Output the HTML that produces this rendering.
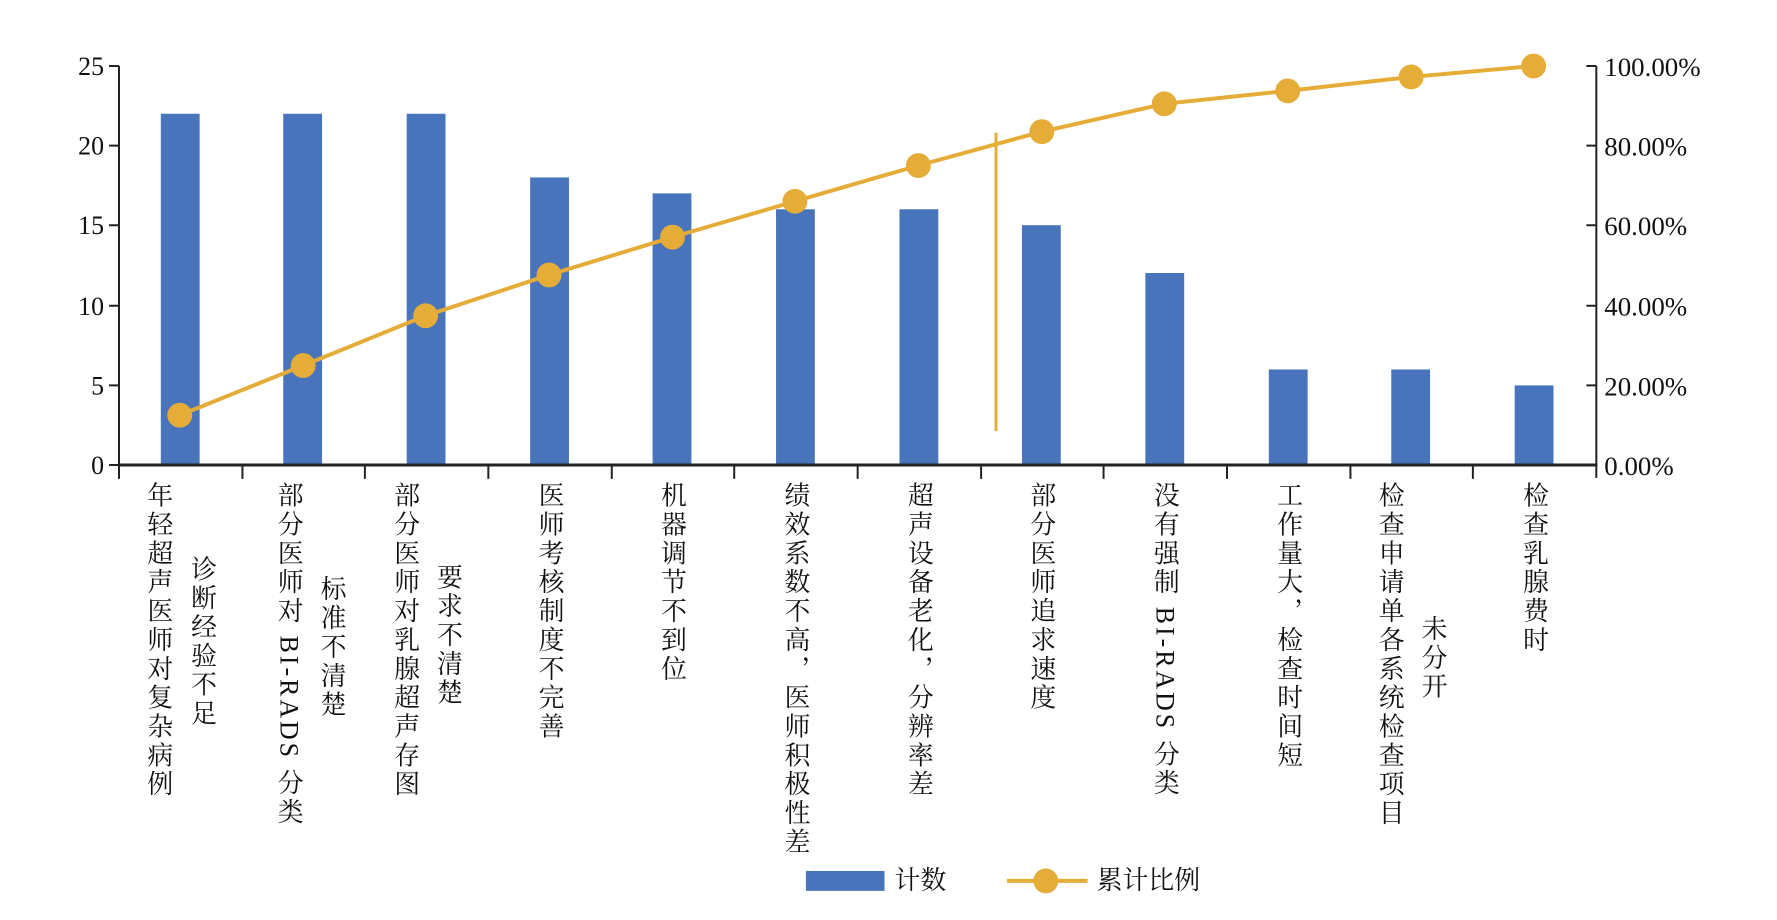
<!DOCTYPE html>
<html><head><meta charset="utf-8"><style>
body{margin:0;width:1777px;height:920px;background:#fff;position:relative;overflow:hidden;font-family:"Liberation Serif","Noto Serif CJK SC",serif;}
#w{position:absolute;left:0;top:0;width:1777px;height:920px;transform-origin:0 0;transform:matrix(0.9955,0,0,0.995,-0.46,0.33);}
.v{position:absolute;writing-mode:vertical-rl;font-size:26px;letter-spacing:3px;color:#111;line-height:1;white-space:nowrap;}
.t{position:absolute;font-size:26px;color:#111;line-height:1;}
</style></head><body><div id="w">
<svg width="1777" height="920" style="position:absolute;left:0;top:0">
<g fill="#4874bc">
<rect x="162" y="114" width="39" height="353"/>
<rect x="285" y="114" width="39" height="353"/>
<rect x="409" y="114" width="39" height="353"/>
<rect x="533" y="178" width="39" height="289"/>
<rect x="656" y="194" width="39" height="273"/>
<rect x="780" y="210" width="39" height="257"/>
<rect x="904" y="210" width="39" height="257"/>
<rect x="1027" y="226" width="39" height="241"/>
<rect x="1151" y="274" width="39" height="193"/>
<rect x="1275" y="371" width="39" height="96"/>
<rect x="1398" y="371" width="39" height="96"/>
<rect x="1522" y="387" width="39" height="80"/>
</g>
<g stroke="#222" stroke-width="2" fill="none">
<line x1="120" y1="66" x2="120" y2="468"/>
<line x1="1604" y1="66" x2="1604" y2="480"/>
<line x1="119" y1="467" x2="1605" y2="467" stroke-width="3"/>
<path d="M110 66H120M110 146H120M110 226H120M110 307H120M110 387H120M110 467H120"/>
<path d="M1594 66H1604M1594 146H1604M1594 226H1604M1594 307H1604M1594 387H1604"/>
<path d="M120 467V481M244 467V481M367 467V481M491 467V481M615 467V481M738 467V481M862 467V481M986 467V481M1109 467V481M1233 467V481M1357 467V481M1480 467V481"/>
</g>
<line x1="1001" y1="133" x2="1001" y2="433" stroke="#e5ac37" stroke-width="3"/>
<polyline fill="none" stroke="#e5ac37" stroke-width="4" points="181,417 305,367 428,317 552,276 676,238 799,202 923,166 1047,132 1170,104 1294,91 1418,77 1541,66"/>
<g fill="#e5ac37">
<circle cx="181" cy="417" r="12.5"/><circle cx="305" cy="367" r="12.5"/><circle cx="428" cy="317" r="12.5"/><circle cx="552" cy="276" r="12.5"/><circle cx="676" cy="238" r="12.5"/><circle cx="799" cy="202" r="12.5"/><circle cx="923" cy="166" r="12.5"/><circle cx="1047" cy="132" r="12.5"/><circle cx="1170" cy="104" r="12.5"/><circle cx="1294" cy="91" r="12.5"/><circle cx="1418" cy="77" r="12.5"/><circle cx="1541" cy="66" r="12.5"/>
</g>
<rect x="810" y="875" width="79" height="20" fill="#4874bc"/>
<line x1="1012" y1="885" x2="1093" y2="885" stroke="#e5ac37" stroke-width="4"/>
<circle cx="1051" cy="885" r="12.5" fill="#e5ac37"/>
</svg>
<div class="t" style="right:1672px;top:54px">25</div>
<div class="t" style="right:1672px;top:134px">20</div>
<div class="t" style="right:1672px;top:214px">15</div>
<div class="t" style="right:1672px;top:295px">10</div>
<div class="t" style="right:1672px;top:375px">5</div>
<div class="t" style="right:1672px;top:455px">0</div>
<div class="t" style="left:1612px;top:54px;font-size:27px">100.00%</div>
<div class="t" style="left:1612px;top:134px;font-size:27px">80.00%</div>
<div class="t" style="left:1612px;top:214px;font-size:27px">60.00%</div>
<div class="t" style="left:1612px;top:295px;font-size:27px">40.00%</div>
<div class="t" style="left:1612px;top:375px;font-size:27px">20.00%</div>
<div class="t" style="left:1612px;top:455px;font-size:27px">0.00%</div>
<div class="v" style="left:146px;top:484px">年轻超声医师对复杂病例</div>
<div class="v" style="left:190px;top:558px">诊断经验不足</div>
<div class="v" style="left:277px;top:484px">部分医师对 BI-RADS 分类</div>
<div class="v" style="left:320px;top:578px">标准不清楚</div>
<div class="v" style="left:394px;top:484px">部分医师对乳腺超声存图</div>
<div class="v" style="left:437px;top:566px">要求不清楚</div>
<div class="v" style="left:539px;top:484px">医师考核制度不完善</div>
<div class="v" style="left:662px;top:484px">机器调节不到位</div>
<div class="v" style="left:786px;top:484px">绩效系数不高，医师积极性差</div>
<div class="v" style="left:910px;top:484px">超声设备老化，分辨率差</div>
<div class="v" style="left:1033px;top:484px">部分医师追求速度</div>
<div class="v" style="left:1157px;top:484px">没有强制 BI-RADS 分类</div>
<div class="v" style="left:1281px;top:484px">工作量大，检查时间短</div>
<div class="v" style="left:1383px;top:484px">检查申请单各系统检查项目</div>
<div class="v" style="left:1426px;top:618px">未分开</div>
<div class="v" style="left:1528px;top:484px">检查乳腺费时</div>
<div class="t" style="left:899px;top:872px">计数</div>
<div class="t" style="left:1102px;top:872px">累计比例</div>
</div></body></html>
